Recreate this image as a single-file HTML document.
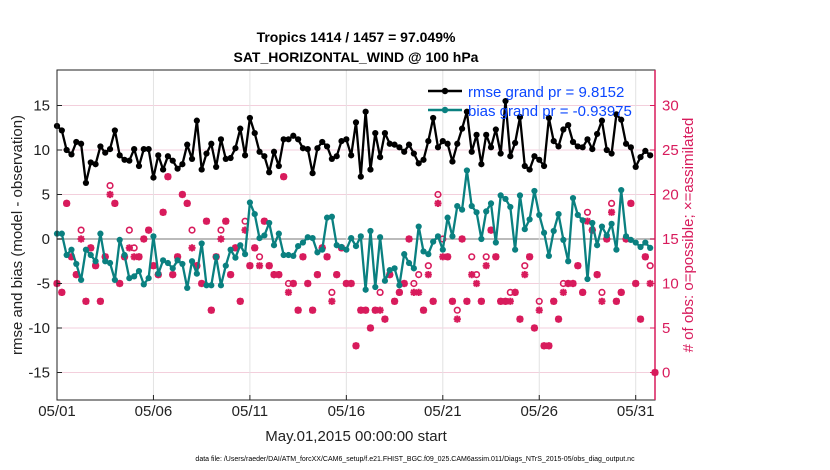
<!DOCTYPE html>
<html><head><meta charset="utf-8">
<style>
html,body{margin:0;padding:0;background:#fff;}
svg{display:block;font-family:"Liberation Sans",Arial,sans-serif;}
</style></head>
<body>
<svg id="chart" width="830" height="470" viewBox="0 0 830 470" xmlns="http://www.w3.org/2000/svg">
<text x="356" y="42" text-anchor="middle" font-size="14" font-weight="bold">Tropics 1414 / 1457 = 97.049%</text>
<text x="356" y="62" text-anchor="middle" font-size="14" font-weight="bold">SAT_HORIZONTAL_WIND @ 100 hPa</text>
<g id="grid"></g>
<g id="marks"></g>
<g id="axes"></g>
<text transform="translate(22,235) rotate(-90)" text-anchor="middle" font-size="15" fill="#222">rmse and bias (model - observation)</text>
<text transform="translate(693,235) rotate(-90)" text-anchor="middle" font-size="15" fill="#d81b5c"># of obs: o=possible; ×=assimilated</text>
<text x="356" y="441" text-anchor="middle" font-size="15" fill="#222">May.01,2015 00:00:00 start</text>
<text x="415" y="461" text-anchor="middle" font-size="7" fill="#000">data file: /Users/raeder/DAI/ATM_forcXX/CAM6_setup/f.e21.FHIST_BGC.f09_025.CAM6assim.011/Diags_NTrS_2015-05/obs_diag_output.nc</text>
<g>
<line x1="428" y1="91" x2="462" y2="91" stroke="#000" stroke-width="2.5"/>
<circle cx="445" cy="91" r="3.2" fill="#000"/>
<text x="468" y="97" font-size="15" fill="#0a46ff">rmse grand pr = 9.8152</text>
<line x1="428" y1="110" x2="462" y2="110" stroke="#0a8080" stroke-width="2.5"/>
<circle cx="445" cy="110" r="3.2" fill="#0a8080"/>
<text x="468" y="116" font-size="15" fill="#0a46ff">bias grand pr = -0.93975</text>
</g>
</svg>
<script>
const rmse=[12.7,12.2,10.0,9.5,10.9,10.7,6.3,8.6,8.4,10.4,9.7,10.1,12.2,9.4,8.9,8.8,10.1,8.2,10.1,10.1,6.9,9.4,7.8,9.3,8.8,7.9,8.4,10.6,9.0,13.3,7.8,9.6,10.7,8.1,11.2,9.0,9.1,10.2,12.4,9.4,13.6,
11.9,9.8,9.3,7.5,9.8,8.2,11.2,11.2,11.6,11.2,10.2,10.1,7.4,10.2,10.9,10.4,9.0,9.3,11.0,11.2,9.4,13.1,7.0,14.3,7.8,11.9,9.2,11.9,10.7,10.6,10.3,9.8,10.6,9.6,8.5,8.9,11.0,13.6,10.3,11.0,
10.7,8.7,10.7,12.4,14.3,9.8,11.7,8.4,11.7,10.3,12.3,9.6,15.5,9.3,10.8,13.7,8.2,7.8,9.3,8.9,8.2,13.6,11.0,10.4,12.3,12.8,10.9,10.4,10.3,11.2,10.1,11.8,13.3,10.0,9.6,14.0,13.4,10.7,10.3,8.1,9.2,9.9,9.4];
const bias=[0.6,0.6,-1.8,-1.2,-2.8,-4.6,-1.2,-1.8,-2.5,0.6,-2.5,-2.7,-4.6,-0.1,-1.8,-4.4,-4.2,-3.6,-5.1,-4.4,0.3,-3.9,-2.4,-2.7,-3.3,-2.4,-2.8,-5.5,-2.5,-3.9,-0.5,-5.2,-5.2,-2.0,-5.2,-3.0,-1.2,-2.1,-0.7,-1.7,4.1,
2.8,0.1,0.4,1.8,-0.7,0.6,-1.8,-1.8,-1.9,-0.8,-0.4,0.2,0.1,-1.5,-1.2,2.4,2.5,-0.7,-0.9,-1.2,0.1,-0.8,0.3,-5.7,0.9,-5.4,0.2,-4.7,-3.5,-3.3,-5.2,-1.7,-2.7,-3.3,1.4,-1.4,-1.7,-0.3,0.3,-1.2,
2.4,0.3,3.7,3.3,7.7,3.7,3.0,0.0,3.1,4.0,-0.4,4.9,4.5,3.6,-1.2,4.9,1.1,2.2,5.4,2.7,0.7,-1.9,0.9,2.8,-0.1,-2.5,4.6,2.7,2.1,-4.5,1.8,-0.7,1.4,0.4,1.7,-1.2,5.5,0.3,-0.1,-0.4,-0.9,-0.4,-1.0];
const nAssim=[10,9,19,13,11,15,8,14,12,8,13,20,19,10,13,14,13,13,15,16,12,11,18,22,11,13,20,19,14,12,10,17,7,13,15,17,11,14,8,16,12,
14,12,17,12,11,11,22,9,10,7,13,10,7,11,14,13,8,11,14,10,10,3,7,7,5,7,7,6,11,8,9,10,15,9,9,7,11,8,19,13,
13,8,6,15,8,11,10,8,12,16,13,8,8,8,9,6,11,13,5,7,3,3,8,6,9,10,10,12,9,17,16,11,8,15,18,8,9,15,19,10,6,13,10,0];
const nPoss=[10,9,19,13,11,16,8,14,12,8,13,21,19,10,13,16,14,13,15,16,12,11,18,22,11,13,20,19,16,12,10,17,7,13,16,17,11,14,8,17,12,
14,13,17,12,11,11,22,10,10,7,13,10,7,11,14,13,9,11,14,10,10,3,7,7,5,7,9,6,11,8,9,10,15,10,11,7,12,8,20,15,
13,8,7,15,8,13,11,8,13,16,13,8,8,9,9,6,12,13,5,8,3,3,8,6,10,10,10,12,9,18,16,11,9,15,19,8,9,15,19,10,6,13,12,0];
const xTickLabels=["05/01","05/06","05/11","05/16","05/21","05/26","05/31"];
const xTickDays=[0,5,10,15,20,25,30];
const yTicks=[-15,-10,-5,0,5,10,15];
const rTicks=[0,5,10,15,20,25,30];

const L=57,R=655,T=70,B=400;
const NS="http://www.w3.org/2000/svg";
const xDay=d=>L+d*19.29;
const xIdx=i=>xDay(i/4);
const yL=v=>239-8.9*v;
const yR=r=>yL(r-15);
function mk(tag,attrs,parent){const e=document.createElementNS(NS,tag);for(const k in attrs)e.setAttribute(k,attrs[k]);parent.appendChild(e);return e;}
const grid=document.getElementById('grid'),marks=document.getElementById('marks'),axes=document.getElementById('axes');

yTicks.forEach(v=>{
  const g=mk('line',{x1:L,x2:R,y1:yL(v),y2:yL(v),stroke:v===0?'#bbb':'#f3cfdc','stroke-width':v===0?2:1},grid);
  
  
  const t=mk('text',{x:L-7,y:yL(v)+5,'text-anchor':'end','font-size':15,fill:'#222'},axes);
  t.textContent=v;
  
  
  mk('line',{x1:L,x2:L+5,y1:yL(v),y2:yL(v),stroke:'#222'},axes);
});
xTickDays.forEach((d,k)=>{
  const g=mk('line',{x1:xDay(d),x2:xDay(d),y1:T,y2:B,stroke:'#e2e2e2'},grid);
  
  
  mk('line',{x1:xDay(d),x2:xDay(d),y1:B,y2:B-5,stroke:'#222'},axes);
  const t=mk('text',{x:xDay(d),y:416,'text-anchor':'middle','font-size':15,fill:'#222'},axes);
  t.textContent=xTickLabels[k];
  
  
});
rTicks.forEach(r=>{
  mk('line',{x1:R-5,x2:R,y1:yR(r),y2:yR(r),stroke:'#d81b5c'},axes);
  const t=mk('text',{x:R+7,y:yR(r)+5,'font-size':15,fill:'#d81b5c'},axes);
  t.textContent=r;
  
  
});
mk('rect',{x:L,y:T,width:R-L,height:B-T,fill:'none',stroke:'#222','stroke-width':1},axes);
mk('line',{x1:R,x2:R,y1:T,y2:B,stroke:'#d81b5c','stroke-width':1.5},axes);

// obs counts
const MC='#d81b5c';
nPoss.forEach((p,i)=>{
  const c=mk('circle',{cx:xIdx(i),cy:yR(p),r:2.8,fill:'none',stroke:MC,'stroke-width':1.6},marks);
  
  
});
nAssim.forEach((a,i)=>{
  const x=xIdx(i),y=yR(a),s=3.6;
  const p=mk('path',{d:`M${x-s} ${y}H${x+s}M${x} ${y-s}V${y+s}M${x-s*0.75} ${y-s*0.75}L${x+s*0.75} ${y+s*0.75}M${x-s*0.75} ${y+s*0.75}L${x+s*0.75} ${y-s*0.75}`,stroke:MC,'stroke-width':2},marks);
  
  
});
function series(arr,color,name){
  const d=arr.map((v,i)=>(i?'L':'M')+xIdx(i).toFixed(1)+' '+yL(v).toFixed(1)).join('');
  const l=mk('path',{d:d,fill:'none',stroke:color,'stroke-width':2.3,'stroke-linejoin':'round'},marks);
  
  
  arr.forEach((v,i)=>{
    const c=mk('circle',{cx:xIdx(i),cy:yL(v),r:3.1,fill:color},marks);
    
    
  });
}
series(bias,'#0a8080','bias');
series(rmse,'#000000','rmse');
</script>
</body></html>
